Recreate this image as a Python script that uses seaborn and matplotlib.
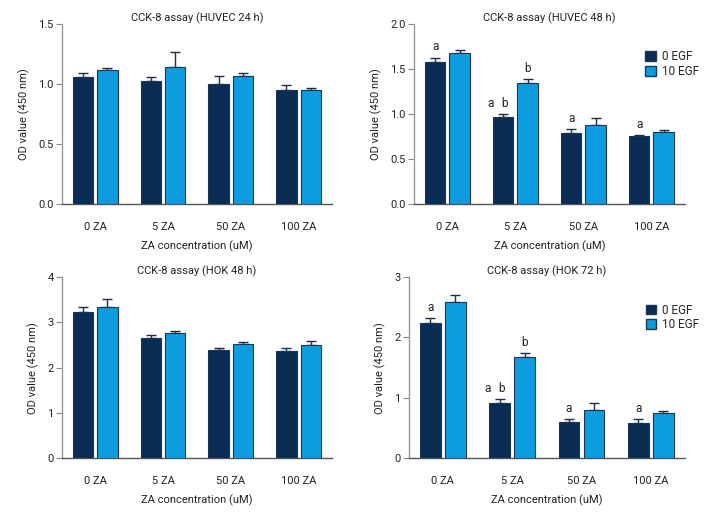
import numpy as np
import pandas as pd
import matplotlib
matplotlib.use("Agg")
import matplotlib.pyplot as plt
import seaborn as sns
from matplotlib.patches import Patch
from matplotlib.container import BarContainer

categories = ["0 ZA", "5 ZA", "50 ZA", "100 ZA"]
hues = ["0 EGF", "10 EGF"]

titles = ["CCK-8 assay (HUVEC 24 h)", "CCK-8 assay (HUVEC 48 h)",
          "CCK-8 assay (HOK 48 h)", "CCK-8 assay (HOK 72 h)"]

huvec24_0 = [1.06, 1.02, 1.00, 0.95]
huvec24_10 = [1.115, 1.14, 1.065, 0.945]
huvec24_err0 = [0.03, 0.035, 0.065, 0.04]
huvec24_err10 = [0.02, 0.125, 0.022, 0.02]

huvec48_0 = [1.58, 0.965, 0.79, 0.75]
huvec48_10 = [1.675, 1.345, 0.87, 0.797]
huvec48_err0 = [0.045, 0.033, 0.042, 0.01]
huvec48_err10 = [0.03, 0.036, 0.085, 0.025]

hok48_0 = [3.22, 2.66, 2.39, 2.36]
hok48_10 = [3.33, 2.76, 2.53, 2.51]
hok48_err0 = [0.11, 0.07, 0.035, 0.07]
hok48_err10 = [0.18, 0.04, 0.03, 0.08]

hok72_0 = [2.24, 0.91, 0.60, 0.585]
hok72_10 = [2.59, 1.67, 0.80, 0.75]
hok72_err0 = [0.075, 0.07, 0.045, 0.06]
hok72_err10 = [0.11, 0.07, 0.115, 0.03]

yticks_list = [[0.0, 0.5, 1.0, 1.5], [0.0, 0.5, 1.0, 1.5, 2.0],
               [0, 1, 2, 3, 4], [0, 1, 2, 3]]
ytick_fmt = ["{:.1f}", "{:.1f}", "{:.0f}", "{:.0f}"]

# significance letters: (category index, hue index, letter, x offset in points)
huvec48_marks = [(0, 0, "a", 0), (1, 0, "a", -9), (1, 0, "b", 1), (1, 1, "b", 0),
                 (2, 0, "a", 0), (3, 0, "a", 0)]
hok72_marks = [(0, 0, "a", 0), (1, 0, "a", -9), (1, 0, "b", 1), (1, 1, "b", 0),
               (2, 0, "a", 0), (3, 0, "a", 0)]

panels = [
    (huvec24_0, huvec24_10, huvec24_err0, huvec24_err10, [], False),
    (huvec48_0, huvec48_10, huvec48_err0, huvec48_err10, huvec48_marks, True),
    (hok48_0, hok48_10, hok48_err0, hok48_err10, [], False),
    (hok72_0, hok72_10, hok72_err0, hok72_err10, hok72_marks, True),
]

dark = "#0a2d56"
light = "#0b9de0"
edge = "#1c3550"

sns.set_theme(style="white")
plt.rcParams["font.family"] = ["Liberation Sans Narrow", "Roboto", "DejaVu Sans"]
plt.rcParams["font.size"] = 8

fig = plt.figure(figsize=(7.2, 5.16), dpi=100)
rects = [
    [0.086, 0.605, 0.375, 0.349],
    [0.575, 0.605, 0.376, 0.349],
    [0.086, 0.112, 0.375, 0.351],
    [0.568, 0.112, 0.383, 0.351],
]

for i, (m0, m1, e0, e1, marks, show_leg) in enumerate(panels):
    ax = fig.add_axes(rects[i])
    df = pd.DataFrame({
        "cat": categories * 2,
        "egf": [hues[0]] * 4 + [hues[1]] * 4,
        "val": list(m0) + list(m1),
    })
    sns.barplot(data=df, x="cat", y="val", hue="egf", order=categories,
                hue_order=hues, palette=[dark, light], width=0.72, gap=0.17,
                saturation=1, errorbar=None, edgecolor=edge, linewidth=0.8,
                ax=ax, zorder=3)
    bar_conts = [c for c in ax.containers if isinstance(c, BarContainer)]
    errs = [e0, e1]
    means = [m0, m1]
    tops = []
    for h, cont in enumerate(bar_conts):
        xs = [b.get_x() + b.get_width() / 2 for b in cont]
        ax.errorbar(xs, means[h], yerr=[np.zeros(4), errs[h]], fmt="none",
                    ecolor="#1e2f45", elinewidth=1.0, capsize=3.5, capthick=1.0,
                    zorder=2)
        tops.append((xs, [m + e for m, e in zip(means[h], errs[h])]))
    for (c, h, letter, dx) in marks:
        x = tops[h][0][c]
        y = tops[h][1][c]
        ax.annotate(letter, (x, y), xytext=(dx, 3), textcoords="offset points",
                    ha="center", va="bottom", fontsize=8.5, color="#222222")
    ax.set_xlim(-0.49, 3.49)
    yt = yticks_list[i]
    ax.set_ylim(0, yt[-1])
    ax.set_yticks(yt)
    ax.set_yticklabels([ytick_fmt[i].format(v) for v in yt])
    ax.set_title(titles[i], fontsize=8, color="#222222", pad=2)
    ax.set_xlabel("ZA concentration (uM)", fontsize=8, color="#222222", labelpad=6)
    ax.set_ylabel("OD value (450 nm)", fontsize=8, color="#222222", labelpad=6)
    ax.tick_params(axis="y", left=True, length=4, width=0.8, color="#888888",
                   labelsize=8, labelcolor="#222222", pad=2)
    ax.tick_params(axis="x", bottom=False, labelsize=8, labelcolor="#222222", pad=7)
    for s in ["top", "right"]:
        ax.spines[s].set_visible(False)
    ax.spines["left"].set_color("#999999")
    ax.spines["left"].set_linewidth(1.0)
    ax.spines["bottom"].set_color("#555555")
    ax.spines["bottom"].set_linewidth(1.0)
    leg = ax.get_legend()
    if leg is not None:
        leg.remove()
    if show_leg:
        handles = [Patch(facecolor=dark, edgecolor=edge, label=hues[0]),
                   Patch(facecolor=light, edgecolor=edge, label=hues[1])]
        ax.legend(handles=handles, loc="upper right", bbox_to_anchor=(1.07, 0.88),
                  frameon=False, fontsize=8.5, handlelength=0.9, handleheight=0.9,
                  handletextpad=0.5, labelspacing=0.15, borderaxespad=0)

fig.savefig("out.png", dpi=100, facecolor="white")
